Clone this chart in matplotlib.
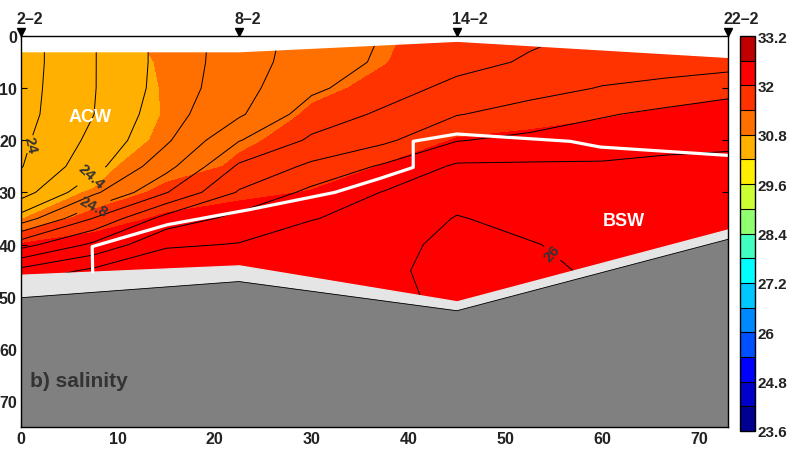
import numpy as np
import matplotlib.pyplot as plt
from matplotlib.colors import ListedColormap

plt.rcParams['font.family'] = ['Liberation Sans', 'DejaVu Sans']
plt.rcParams['font.weight'] = 'bold'

# Grid: distance along section [km] and depth [m]
dist = [0, 7.5, 15, 22.5, 30, 37.5, 45, 52.5, 60, 66.5, 73]
depth = [0, 5, 10, 15, 20, 25, 30, 35, 40, 45, 50, 55]

# Salinity profiles, one list per distance column (top -> bottom)
sal_cols = [
    [30.50, 30.50, 30.50, 30.52, 30.55, 30.60, 30.68, 30.76, 32.05, 32.20, 32.25, 32.25],
    [30.50, 30.50, 30.52, 30.55, 30.60, 30.68, 30.82, 31.70, 32.25, 32.30, 32.30, 32.30],
    [30.99, 30.86, 30.83, 30.82, 30.86, 31.04, 31.62, 32.10, 32.25, 32.30, 32.30, 32.30],
    [31.10, 31.10, 31.12, 31.18, 31.30, 31.50, 31.90, 32.20, 32.30, 32.30, 32.30, 32.30],
    [31.25, 31.28, 31.34, 31.44, 31.60, 31.80, 32.02, 32.25, 32.35, 32.35, 32.35, 32.35],
    [31.37, 31.39, 31.46, 31.60, 31.80, 32.02, 32.20, 32.30, 32.40, 32.40, 32.40, 32.40],
    [31.50, 31.55, 31.65, 31.80, 32.02, 32.20, 32.30, 32.40, 32.45, 32.45, 32.45, 32.45],
    [31.55, 31.60, 31.70, 31.88, 32.08, 32.22, 32.32, 32.40, 32.45, 32.45, 32.45, 32.45],
    [31.58, 31.62, 31.75, 31.97, 32.12, 32.25, 32.30, 32.38, 32.42, 32.42, 32.42, 32.42],
    [31.60, 31.68, 31.85, 32.04, 32.18, 32.25, 32.30, 32.35, 32.40, 32.40, 32.40, 32.40],
    [31.62, 31.72, 31.93, 32.10, 32.20, 32.28, 32.32, 32.36, 32.40, 32.40, 32.40, 32.40],
]

# Density (sigma) profiles, same grid
dens_cols = [
    [23.91, 23.91, 23.92, 23.93, 23.96, 23.99, 24.11, 24.48, 25.12, 25.66, 25.95, 25.99],
    [24.19, 24.19, 24.19, 24.198, 24.25, 24.33, 24.56, 25.01, 25.44, 25.84, 26.01, 26.05],
    [24.47, 24.47, 24.48, 24.52, 24.57, 24.73, 24.99, 25.48, 25.77, 25.98, 26.05, 26.05],
    [24.70, 24.71, 24.73, 24.77, 24.99, 25.23, 25.42, 25.66, 25.81, 25.95, 26.02, 26.02],
    [24.88, 24.90, 24.96, 25.10, 25.23, 25.44, 25.65, 25.79, 25.92, 25.98, 26.02, 26.05],
    [25.01, 25.03, 25.12, 25.23, 25.36, 25.63, 25.81, 25.88, 25.93, 25.96, 25.96, 25.96],
    [25.09, 25.14, 25.25, 25.39, 25.59, 25.83, 25.93, 26.01, 26.06, 26.07, 26.04, 26.02],
    [25.17, 25.22, 25.33, 25.48, 25.65, 25.83, 25.90, 25.95, 26.01, 26.03, 26.02, 26.01],
    [25.23, 25.30, 25.41, 25.58, 25.72, 25.82, 25.88, 25.92, 25.95, 25.98, 25.99, 25.99],
    [25.27, 25.32, 25.45, 25.65, 25.76, 25.83, 25.88, 25.92, 25.95, 25.97, 25.98, 25.98],
    [25.30, 25.32, 25.53, 25.70, 25.77, 25.84, 25.88, 25.92, 25.95, 25.97, 25.98, 25.98],
]

sal = np.array(sal_cols).T
dens = np.array(dens_cols).T

# Stations, surface / bottom of data and seafloor
stations = [0, 22.5, 45, 73]
station_names = ['2–2', '8–2', '14–2', '22–2']
top_depth = [2.9, 2.9, 0.9, 4.0]
data_bottom = [45.8, 44.0, 50.9, 37.1]
seafloor = [50.2, 47.1, 52.7, 39.0]

# ACW / BSW front (white line)
front_x = [7.4, 7.35, 15.1, 23.6, 32.4, 37.1, 40.5, 40.5, 45.0, 56.7, 59.8, 73.0]
front_z = [45.2, 40.4, 36.2, 33.3, 30.0, 27.3, 25.2, 20.2, 18.8, 20.2, 21.3, 22.9]

sal_levels = np.linspace(23.6, 33.2, 17)
plain_levels = [24.2, 24.6, 25.0, 25.2, 25.4, 25.6, 25.8]
label_levels = [24.0, 24.4, 24.8, 26.0]
label_pos = [(1.1, 20.8), (7.3, 27.0), (7.6, 33.0), (54.6, 42.0)]

cb_ticks = [23.6, 24.8, 26, 27.2, 28.4, 29.6, 30.8, 32, 33.2]
cb_colors = ['#000090', '#0000c8', '#0000ff', '#0050ff', '#0088ff', '#00c8ff',
             '#00ffff', '#40ffc0', '#90ff70', '#ccff33', '#ffee00', '#ffb000',
             '#ff7000', '#ff3300', '#ff0000', '#c00000']
cmap = ListedColormap(cb_colors)

fig = plt.figure(figsize=(7.91, 4.56), dpi=100)
ax = fig.add_axes([21/791, 28/456, 707/791, 391/456])

cf = ax.contourf(dist, depth, sal, levels=sal_levels, cmap=cmap, zorder=1)
ax.contour(dist, depth, dens, levels=plain_levels, colors='k',
           linewidths=0.7, zorder=2)
cs = ax.contour(dist, depth, dens, levels=label_levels, colors='k',
                linewidths=0.7, zorder=2)
ax.clabel(cs, manual=label_pos, fmt='%g', fontsize=11,
          inline=True, inline_spacing=4, colors='#333333')

# masks: above surface, below data, seafloor
ax.fill_between(stations, -1, top_depth, color='white', zorder=3)
ax.fill_between(stations, data_bottom, 80, color='#e5e5e5', zorder=3)
ax.fill_between(stations, seafloor, 80, color='#808080', zorder=4)
ax.plot(stations, seafloor, color='k', lw=0.6, zorder=4)

ax.plot(front_x, front_z, color='white', lw=2.3, zorder=5)

ax.text(7.1, 15.4, 'ACW', color='white', fontsize=13, ha='center', va='center', zorder=6)
ax.text(62.2, 35.4, 'BSW', color='white', fontsize=13, ha='center', va='center', zorder=6)
ax.text(0.95, 66, 'b) salinity', color='#333333', fontsize=15, ha='left', va='center', zorder=6)

# station markers on top
ax.plot(stations, [-0.7]*len(stations), 'v', color='k', ms=5.5, clip_on=False, zorder=10)
for sx, name in zip(stations, station_names):
    ax.annotate(name, xy=(sx, 0), xytext=(-3.5, 12.5), textcoords='offset points',
                ha='left', va='center', fontsize=11.5, color='#222222',
                annotation_clip=False)

ax.set_xlim(0, 73)
ax.set_ylim(75, 0)
ax.set_xticks(range(0, 80, 10))
ax.set_yticks(range(0, 80, 10))
ax.tick_params(direction='in', length=4.5, width=0.8, top=True, right=True,
               labelsize=11.5, labelcolor='#222222', pad=3)
for sp in ax.spines.values():
    sp.set_linewidth(1.0)
    sp.set_zorder(11)

# colorbar
cax = fig.add_axes([740/791, 24/456, 15/791, 395/456])
cb = fig.colorbar(cf, cax=cax, ticks=cb_ticks, drawedges=True)
cb.ax.set_yticklabels(['%g' % t for t in cb_ticks])
cb.ax.tick_params(length=0, labelsize=11, labelcolor='#222222', pad=2)
cb.outline.set_linewidth(1.0)
cb.dividers.set_linewidth(0.8)

fig.savefig('out.png', dpi=100)
